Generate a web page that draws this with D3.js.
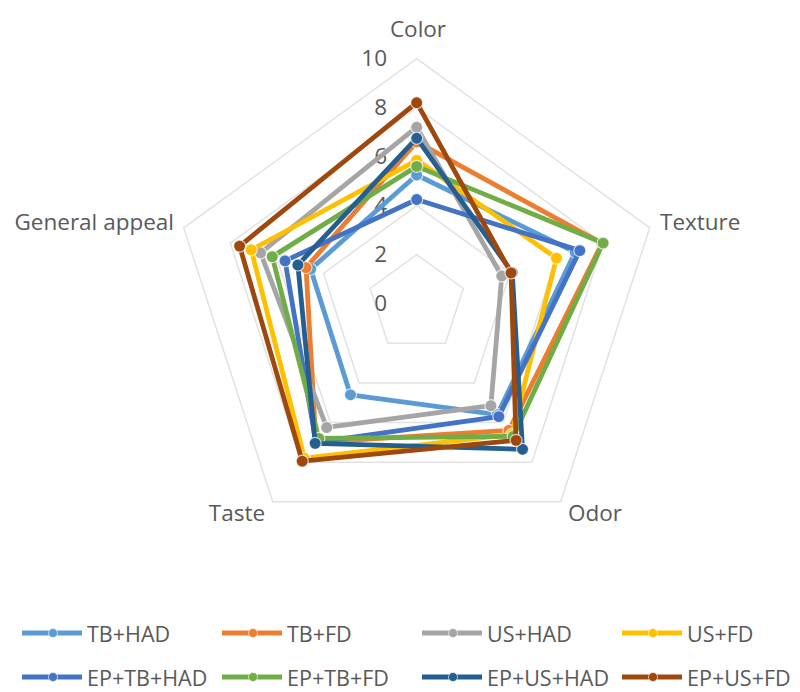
<!DOCTYPE html>
<html>
<head>
<meta charset="utf-8">
<script src="https://cdn.jsdelivr.net/npm/d3@7"></script>
<style>
  html, body { margin: 0; padding: 0; background: #fff; }
  svg { display: block; }
  text { font-family: "Open Sans", "Noto Sans", sans-serif; fill: #595959; }
</style>
</head>
<body>
<svg id="chart" width="800" height="692"></svg>
<script>
// Sensory attributes (radar axes, clockwise from the top)
const attributes = ["Color", "Texture", "Odor", "Taste", "General appeal"];

// Scores per drying treatment, in the order of the attributes above
const tbHad    = [5.25, 6.8, 5.6, 4.6, 4.55];
const tbFd     = [6.6, 7.95, 6.4, 7.0, 4.75];
const usHad    = [7.2, 3.65, 5.15, 6.25, 6.7];
const usFd     = [5.85, 6.0, 6.6, 7.8, 7.1];
const epTbHad  = [4.25, 7.0, 5.7, 7.0, 5.65];
const epTbFd   = [5.6, 8.0, 6.7, 6.8, 6.2];
const epUsHad  = [6.75, 4.1, 7.35, 7.05, 5.1];
const epUsFd   = [8.2, 4.05, 6.9, 7.95, 7.6];

const seriesNames  = ["TB+HAD", "TB+FD", "US+HAD", "US+FD", "EP+TB+HAD", "EP+TB+FD", "EP+US+HAD", "EP+US+FD"];
const seriesValues = [tbHad, tbFd, usHad, usFd, epTbHad, epTbFd, epUsHad, epUsFd];
const seriesColors = ["#5B9BD5", "#ED7D31", "#A5A5A5", "#FFC000", "#4472C4", "#70AD47", "#255E91", "#9E480E"];

// Radial tick values
const tickValues = [0, 2, 4, 6, 8, 10];

const svg = d3.select("#chart");
const cx = 416.7, cy = 303.6;
const fontSize = 22.5;
const legendFontSize = 21.5;

const r = d3.scaleLinear().domain([0, 10]).range([0, 245]);
const angle = d3.scalePoint().domain(attributes).range([0, 2 * Math.PI * (attributes.length - 1) / attributes.length]);

const pt = (attr, v) => {
  const a = angle(attr);
  return [cx + Math.sin(a) * r(v), cy - Math.cos(a) * r(v)];
};

const g = svg.append("g");

// Grid pentagons
const gridLine = d3.line();
tickValues.filter(v => v > 0).forEach(v => {
  const pts = attributes.map(a => pt(a, v));
  g.append("path")
    .attr("d", gridLine(pts) + "Z")
    .attr("fill", "none")
    .attr("stroke", "#e2e2e2")
    .attr("stroke-width", 1.5);
});

// Radial tick labels
g.selectAll(".tick").data(tickValues).join("text")
  .attr("class", "tick")
  .attr("x", 387)
  .attr("y", d => cy - r(d) - 1)
  .attr("text-anchor", "end")
  .attr("dominant-baseline", "central")
  .attr("font-size", fontSize)
  .text(d => d);

// Axis labels
const labelPos = {
  "Color":          { x: 418, y: 28,  anchor: "middle" },
  "Texture":        { x: 660, y: 221, anchor: "start" },
  "Odor":           { x: 595, y: 512, anchor: "middle" },
  "Taste":          { x: 237, y: 512, anchor: "middle" },
  "General appeal": { x: 174, y: 221, anchor: "end" }
};
g.selectAll(".axis-label").data(attributes).join("text")
  .attr("class", "axis-label")
  .attr("x", d => labelPos[d].x)
  .attr("y", d => labelPos[d].y)
  .attr("text-anchor", d => labelPos[d].anchor)
  .attr("dominant-baseline", "central")
  .attr("font-size", fontSize)
  .text(d => d);

// Series polygons with markers
const line = d3.line();
seriesValues.forEach((vals, i) => {
  const pts = attributes.map((a, j) => pt(a, vals[j]));
  const sg = g.append("g");
  sg.append("path")
    .attr("d", line(pts) + "Z")
    .attr("fill", "none")
    .attr("stroke", seriesColors[i])
    .attr("stroke-width", 4.8)
    .attr("stroke-linejoin", "round");
  sg.selectAll("circle").data(pts).join("circle")
    .attr("cx", d => d[0])
    .attr("cy", d => d[1])
    .attr("r", 6)
    .attr("fill", seriesColors[i])
    .attr("stroke", "#ffffff")
    .attr("stroke-opacity", 0.7)
    .attr("stroke-width", 1.2);
});

// Legend: two rows of four entries
const legendX = [22, 222, 422, 622];
const legendY = [633, 677];
const leg = svg.append("g");
seriesNames.forEach((name, i) => {
  const x = legendX[i % 4], y = legendY[Math.floor(i / 4)];
  const item = leg.append("g").attr("transform", `translate(${x},${y})`);
  item.append("line")
    .attr("x1", 0).attr("x2", 60)
    .attr("y1", 0).attr("y2", 0)
    .attr("stroke", seriesColors[i])
    .attr("stroke-width", 4.8);
  item.append("circle")
    .attr("cx", 31).attr("cy", 0).attr("r", 4.5)
    .attr("fill", seriesColors[i])
    .attr("stroke", "#fff").attr("stroke-opacity", 0.6).attr("stroke-width", 1);
  item.append("text")
    .attr("x", 65).attr("y", 0)
    .attr("dominant-baseline", "central")
    .attr("font-size", legendFontSize)
    .text(name);
});
</script>
</body>
</html>
